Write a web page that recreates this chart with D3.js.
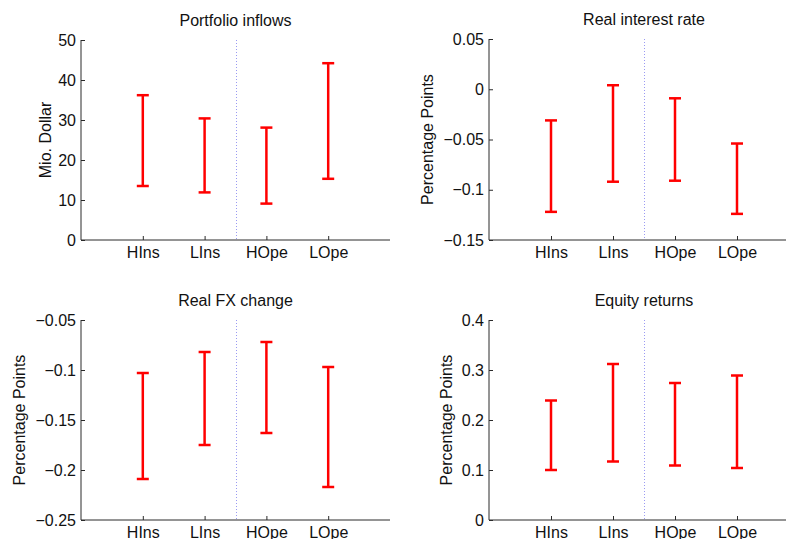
<!DOCTYPE html>
<html><head><meta charset="utf-8">
<script src="https://cdnjs.cloudflare.com/ajax/libs/d3/7.8.5/d3.min.js"></script>
<style>body{margin:0;background:#fff;} svg{display:block;}</style>
</head><body>
<svg id="c" width="786" height="539"></svg>
<script>
const categories = ["HIns", "LIns", "HOpe", "LOpe"];
const titles = ["Portfolio inflows", "Real interest rate", "Real FX change", "Equity returns"];
const yLabels = ["Mio. Dollar", "Percentage Points", "Percentage Points", "Percentage Points"];
const portfolioLow = [13.5, 11.9, 9.1, 15.3];
const portfolioHigh = [36.2, 30.4, 28.1, 44.2];
const interestLow = [-0.122, -0.092, -0.091, -0.124];
const interestHigh = [-0.031, 0.004, -0.009, -0.054];
const fxLow = [-0.209, -0.175, -0.163, -0.217];
const fxHigh = [-0.103, -0.082, -0.072, -0.097];
const equityLow = [0.100, 0.117, 0.109, 0.104];
const equityHigh = [0.239, 0.312, 0.274, 0.289];
const yDomains = [[0, 50], [-0.15, 0.05], [-0.25, -0.05], [0, 0.4]];
const yTicks = [[0, 10, 20, 30, 40, 50], [-0.15, -0.1, -0.05, 0, 0.05], [-0.25, -0.2, -0.15, -0.1, -0.05], [0, 0.1, 0.2, 0.3, 0.4]];
const lows = [portfolioLow, interestLow, fxLow, equityLow];
const highs = [portfolioHigh, interestHigh, fxHigh, equityHigh];

const layout = [
  {x0: 81, x1: 390, yTop: 40, yBot: 240, ylx: 51},
  {x0: 489, x1: 799, yTop: 39, yBot: 240, ylx: 433},
  {x0: 81, x1: 390, yTop: 320, yBot: 520, ylx: 25},
  {x0: 489, x1: 799, yTop: 320, yBot: 520, ylx: 452}
];
const font = "'Liberation Sans', Arial, Helvetica, sans-serif";
const svg = d3.select("#c");

function fmt(v) {
  if (v === 0) return "0";
  let s = String(+v.toFixed(4));
  return s.replace("-", "\u2212");
}

layout.forEach((L, i) => {
  const x = d3.scaleLinear().domain([0, 5]).range([L.x0, L.x1]);
  const y = d3.scaleLinear().domain(yDomains[i]).range([L.yBot, L.yTop]);
  const g = svg.append("g");

  // dotted separator
  const sx = Math.round(x(2.5)) + 0.5;
  g.append("line")
    .attr("x1", sx).attr("x2", sx)
    .attr("y1", y(yDomains[i][1])).attr("y2", y(yDomains[i][0]))
    .attr("stroke", "#9a9af2").attr("stroke-width", 1)
    .attr("stroke-dasharray", "1,2");

  // y axis
  const ya = g.append("g").attr("transform", `translate(${L.x0},0)`)
    .call(d3.axisLeft(y).tickValues(yTicks[i]).tickSize(-4).tickPadding(5).tickFormat(fmt));
  ya.select(".domain").attr("d", `M0,${L.yBot}V${L.yTop}`).attr("stroke", "#2a2a2a");
  ya.selectAll(".tick line").attr("stroke", "#2a2a2a");
  ya.selectAll("text").attr("font-family", font).attr("font-size", 16).attr("fill", "#111");

  // x axis
  const xa = g.append("g").attr("transform", `translate(0,${L.yBot})`)
    .call(d3.axisBottom(x).tickValues([1, 2, 3, 4]).tickSize(-4).tickPadding(7)
      .tickFormat((d) => categories[d - 1]));
  xa.select(".domain").attr("d", `M${L.x0},0H${L.x1}`).attr("stroke", "#2a2a2a");
  xa.selectAll(".tick line").attr("stroke", "#2a2a2a");
  xa.selectAll("text").attr("font-family", font).attr("font-size", 16).attr("fill", "#111");

  // error bars
  const bars = g.append("g").selectAll("g").data(categories).join("g");
  bars.append("line")
    .attr("x1", (d, j) => x(j + 1)).attr("x2", (d, j) => x(j + 1))
    .attr("y1", (d, j) => y(lows[i][j])).attr("y2", (d, j) => y(highs[i][j]))
    .attr("stroke", "#ff0000").attr("stroke-width", 2.5);
  bars.append("line")
    .attr("x1", (d, j) => x(j + 1) - 6).attr("x2", (d, j) => x(j + 1) + 6)
    .attr("y1", (d, j) => y(lows[i][j])).attr("y2", (d, j) => y(lows[i][j]))
    .attr("stroke", "#ff0000").attr("stroke-width", 2.5);
  bars.append("line")
    .attr("x1", (d, j) => x(j + 1) - 6).attr("x2", (d, j) => x(j + 1) + 6)
    .attr("y1", (d, j) => y(highs[i][j])).attr("y2", (d, j) => y(highs[i][j]))
    .attr("stroke", "#ff0000").attr("stroke-width", 2.5);

  // title
  g.append("text").attr("x", x(2.5)).attr("y", L.yTop - 14)
    .attr("text-anchor", "middle").attr("font-family", font).attr("font-size", 16)
    .attr("fill", "#111").text(titles[i]);

  // y label
  const cy = (L.yTop + L.yBot) / 2;
  g.append("text").attr("transform", `translate(${L.ylx},${cy}) rotate(-90)`)
    .attr("text-anchor", "middle").attr("font-family", font).attr("font-size", 16)
    .attr("fill", "#111").text(yLabels[i]);
});
</script>
</body></html>
